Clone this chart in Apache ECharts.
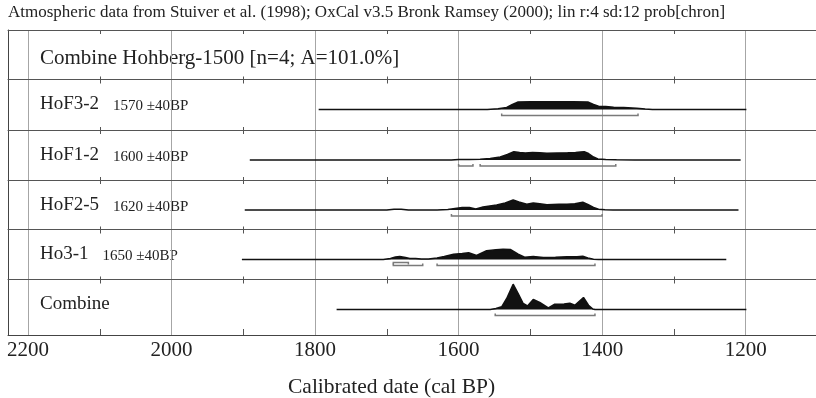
<!DOCTYPE html>
<html>
<head>
<meta charset="utf-8">
<script src="https://cdn.jsdelivr.net/npm/echarts@6/dist/echarts.min.js"></script>
<style>
html, body { margin: 0; padding: 0; background: #fff; }
#chart-container { width: 816px; height: 398px; }
</style>
</head>
<body>
<div id="chart-container"></div>
<script>
// axis ticks (cal BP)
var majorTicks = [2200, 2000, 1800, 1600, 1400, 1200];
var minorTicks = [2100, 1900, 1700, 1500, 1300];

var titleText = 'Atmospheric data from Stuiver et al. (1998); OxCal v3.5 Bronk Ramsey (2000); lin r:4 sd:12 prob[chron]';
var groupLabel = 'Combine Hohberg-1500 [n=4; A=101.0%]';
var axisTitle = 'Calibrated date (cal BP)';

var sampleNames = ['HoF3-2', 'HoF1-2', 'HoF2-5', 'Ho3-1', 'Combine'];
var sampleDates = ['1570 ±40BP', '1600 ±40BP', '1620 ±40BP', '1650 ±40BP', ''];
var lineStarts = [1795, 1891, 1898, 1902, 1770];
var lineEnds = [1199, 1207, 1210, 1227, 1199];

// probability curves (relative heights)
var hof32Years = [1560, 1545, 1533, 1525, 1517, 1500, 1470, 1440, 1420, 1412, 1405, 1395, 1384, 1370, 1352, 1340, 1330];
var hof32Prob  = [0,    0.7,  2,    5,    7.5,  7.7,  7.7,  7.7,  7.5,  5,    3.3,  3,    2.3,  2,    1.3,  0.5,  0];

var hof12Years = [1610, 1600, 1585, 1570, 1556, 1542, 1532, 1523, 1515, 1507, 1497, 1487, 1477, 1462, 1448, 1437, 1430, 1425, 1419, 1412, 1406, 1395, 1380, 1355];
var hof12Prob  = [0,    0.4,  0.6,  0.8,  1.5,  3,    5.5,  8.3,  7.5,  7,    7.6,  7.2,  6.8,  7,    7.2,  7.4,  8,    8.3,  6.5,  3,    1,    0.6,  0.3,  0];

var hof25Years = [1700, 1690, 1680, 1670, 1630, 1615, 1605, 1595, 1585, 1576, 1566, 1547, 1535, 1524, 1516, 1505, 1496, 1487, 1477, 1460, 1449, 1438, 1427, 1420, 1412, 1405, 1396, 1385];
var hof25Prob  = [0,    0.8,  0.8,  0,    0,    0.5,  1.5,  2.5,  2.5,  1,    3,    5,    7,    10,   8,    5.8,  7,    6.3,  5.3,  5.7,  5.8,  6.3,  7.7,  5.5,  2.5,  0.7,  0.3,  0];

var ho31Years = [1705, 1695, 1688, 1682, 1674, 1668, 1660, 1652, 1642, 1630, 1620, 1607, 1595, 1586, 1575, 1561, 1548, 1538, 1528, 1517, 1508, 1496, 1482, 1465, 1449, 1435, 1427, 1420, 1412, 1405];
var ho31Prob  = [0,    1,    2.5,  3,    2,    1,    1,    0.5,  0.5,  1.5,  3,    5.3,  6,    6.7,  4,    8.7,  9.8,  10.3, 10,   5.3,  2.3,  3,    2,    2.3,  2.7,  2.7,  3.3,  1.5,  0.3,  0];

var combineYears = [1556, 1548, 1540, 1533, 1524, 1517, 1510, 1504, 1496, 1487, 1475, 1466, 1453, 1445, 1438, 1426, 1419, 1413, 1410];
var combineProb  = [0,    1,    2.7,  11,   25.3, 16,   6,    3.6,  10,   7,    1.6,  5.3,  5.6,  6.3,  4.3,  12,   4.3,  0.5,  0];

var sampleYears = [hof32Years, hof12Years, hof25Years, ho31Years, combineYears];
var sampleProbs = [hof32Prob, hof12Prob, hof25Prob, ho31Prob, combineProb];

// 95.4% ranges and an extra upper range for Ho3-1
var sampleRanges = [
  [[1540, 1350]],
  [[1600, 1580], [1570, 1381]],
  [[1610, 1400]],
  [[1691, 1650], [1630, 1410]],
  [[1549, 1410]]
];
var upperRanges = [[], [], [], [[1691, 1670]], []];

(function () {
  // layout
  var rowTops = [30, 79.5, 130, 180, 229.5, 279.5];
  var plotBottom = 335;
  var baseDrop = 30;
  // reversed axis: older dates on the left
  var xMin = 1102, xMax = 2227.9;
  var serif = 'Liberation Serif, Times New Roman, serif';

  var myChart = echarts.init(document.getElementById('chart-container'), null, { renderer: 'canvas' });

  var grids = [], xAxes = [], yAxes = [], seriesList = [], graphics = [];
  var nRows = rowTops.length;

  // range bracket: [from, to, level, end tick]
  function renderBracket(params, api) {
    var a = api.value(0), b = api.value(1), lvl = api.value(2), d = api.value(3);
    return {
      type: 'polyline',
      shape: { points: [api.coord([a, lvl + d]), api.coord([a, lvl]), api.coord([b, lvl]), api.coord([b, lvl + d])] },
      style: { stroke: '#7a7a7a', lineWidth: 1.5, fill: null }
    };
  }

  for (var i = 0; i < nRows; i++) {
    var rowTop = rowTops[i];
    var rowNext = i < nRows - 1 ? rowTops[i + 1] : plotBottom;
    var rowH = rowNext - rowTop;
    var last = i === nRows - 1;
    grids.push({ left: 8, right: 0, top: rowTop, height: rowH });

    // bottom axis: inner ticks (and labels on the last row)
    xAxes.push({
      type: 'value', gridIndex: i, position: 'bottom', min: xMin, max: xMax, inverse: true,
      axisLine: { show: last, onZero: false, lineStyle: { color: '#444', width: 1 } },
      axisTick: { show: true, customValues: minorTicks, inside: true, length: last ? 6 : 3, lineStyle: { color: '#555' } },
      axisLabel: {
        show: last, customValues: majorTicks, margin: 5, fontSize: 21, fontFamily: serif, color: '#222',
        formatter: function (v) { return String(v); }
      },
      splitLine: { show: false }
    });
    // top axis: row separator and inner ticks
    xAxes.push({
      type: 'value', gridIndex: i, position: 'top', min: xMin, max: xMax, inverse: true,
      axisLine: { show: true, onZero: false, lineStyle: { color: '#555', width: 1 } },
      axisTick: { show: true, customValues: minorTicks, inside: true, length: 4, lineStyle: { color: '#555' } },
      axisLabel: { show: false },
      splitLine: { show: false }
    });
    // vertical grid lines
    xAxes.push({
      type: 'value', gridIndex: i, position: 'bottom', min: xMin, max: xMax, inverse: true,
      axisLine: { show: false, onZero: false },
      axisTick: { show: false, customValues: majorTicks },
      axisLabel: { show: false },
      splitLine: { show: true, lineStyle: { color: '#a6a6a6', width: 1 } }
    });
    yAxes.push({
      type: 'value', gridIndex: i, min: baseDrop - rowH, max: baseDrop,
      axisLine: { show: true, onZero: false, lineStyle: { color: '#444', width: 1 } },
      axisTick: { show: false }, axisLabel: { show: false }, splitLine: { show: false }
    });

    if (i === 0) {
      graphics.push({
        type: 'text', left: 40, top: rowTop + 18, silent: true,
        style: { text: groupLabel, font: '21px ' + serif, fill: '#222' }
      });
      continue;
    }

    var s = i - 1;
    var pts = [[lineStarts[s], 0]];
    for (var j = 0; j < sampleYears[s].length; j++) pts.push([sampleYears[s][j], sampleProbs[s][j]]);
    pts.push([lineEnds[s], 0]);

    seriesList.push({
      type: 'line', xAxisIndex: 3 * i, yAxisIndex: i, data: pts,
      symbol: 'none', silent: true, z: 3,
      lineStyle: { color: '#111', width: 1.5 },
      areaStyle: { color: '#111', opacity: 1 }
    });

    var brackets = [];
    sampleRanges[s].forEach(function (r) { brackets.push([r[0], r[1], -6, 2]); });
    upperRanges[s].forEach(function (r) { brackets.push([r[0], r[1], -3, -2]); });
    seriesList.push({
      type: 'custom', xAxisIndex: 3 * i, yAxisIndex: i, silent: true, z: 3,
      encode: { x: [0, 1], y: 2 },
      renderItem: renderBracket,
      data: brackets
    });

    graphics.push({
      type: 'text', left: 40, top: rowTop + 15.5, silent: true,
      style: {
        text: '{n|' + sampleNames[s] + '}' + (sampleDates[s] ? '{d|' + sampleDates[s] + '}' : ''),
        rich: {
          n: { font: '19px ' + serif, fill: '#222', verticalAlign: 'bottom', lineHeight: 20 },
          d: { font: '15px ' + serif, fill: '#222', verticalAlign: 'bottom', lineHeight: 20, padding: [0, 0, 0, 14] }
        }
      }
    });
  }

  graphics.push({
    type: 'text', left: 8, top: 4, silent: true,
    style: { text: titleText, font: '17px ' + serif, fill: '#222' }
  });
  graphics.push({
    type: 'text', left: 288, top: 376, silent: true,
    style: { text: axisTitle, font: '21.5px ' + serif, fill: '#222' }
  });

  var option = {
    animation: false,
    backgroundColor: '#fff',
    grid: grids,
    xAxis: xAxes,
    yAxis: yAxes,
    series: seriesList,
    graphic: graphics
  };

  myChart.setOption(option);
})();
</script>
</body>
</html>
